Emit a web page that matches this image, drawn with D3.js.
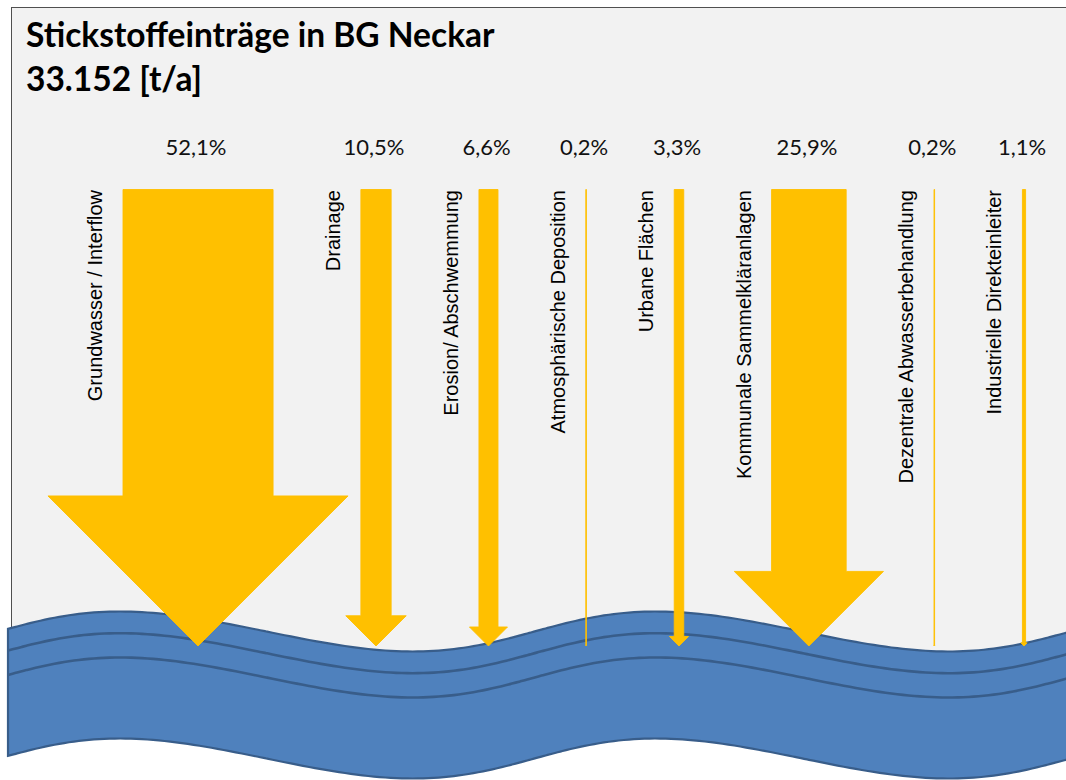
<!DOCTYPE html>
<html>
<head>
<meta charset="utf-8">
<script src="https://cdn.jsdelivr.net/npm/d3@7"></script>
<style>
  body { margin: 0; background: #fff; }
  svg { display: block; }
</style>
</head>
<body>
<svg id="chart" width="1066" height="780"></svg>
<script>
const TITLE = 'Stickstoffeinträge in BG Neckar';
const TOTAL = 33152;
const UNIT = '[t/a]';
const SOURCES = [
    'Grundwasser / Interflow',
    'Drainage',
    'Erosion/ Abschwemmung',
    'Atmosphärische Deposition',
    'Urbane Flächen',
    'Kommunale Sammelkläranlagen',
    'Dezentrale Abwasserbehandlung',
    'Industrielle Direkteinleiter'
];
const SHARES = [52.1, 10.5, 6.6, 0.2, 3.3, 25.9, 0.2, 1.1];

const W = 1066;
const H = 780;
const ORANGE = '#ffc000';
const BLUE = '#4f81bd';
const DARK_BLUE = '#385d8a';

const de = d3.formatLocale({ decimal: ',', thousands: '.', grouping: [3], currency: ['', ' €'] });
const fmtPct = de.format('.1f');
const fmtTotal = de.format(',d');

const svg = d3.select('#chart');

// share (percent) -> pixels; arrows sit side by side with a fixed gap between them
const GAP = 30.5;
const x = d3.scaleLinear().domain([0, 100]).range([123, 411]);
const widthOf = s => x(s) - x(0);
let acc = 0;
const arrows = SOURCES.map((name, i) => {
    const d = { name, share: SHARES[i], left: x(acc + i * GAP), w: widthOf(SHARES[i]) };
    acc += SHARES[i];
    return d;
});

// vertical extent of the arrows
const y = d3.scaleLinear().domain([0, 1]).range([189.5, 646]);

// background panel
svg.append('rect')
    .attr('x', 11.5)
    .attr('y', 7.5)
    .attr('width', W)
    .attr('height', 700)
    .attr('fill', '#f2f2f2')
    .attr('stroke', '#505050')
    .attr('stroke-width', 1);

// the river: a skewed wave
const waveX = t => 132.5 + 536 * t / (2 * Math.PI) - 12.5 * Math.cos(t);
const waveY = (t, off) => 631.5 - 20 * Math.cos(t) + off;
function tAt(px) {
    let lo = -4, hi = 16;
    for (let k = 0; k < 60; k++) {
        const mid = (lo + hi) / 2;
        if (waveX(mid) < px) lo = mid; else hi = mid;
    }
    return lo;
}
const t0 = tAt(8);
const t1 = tAt(W + 12);
function wavePts(off) {
    const pts = [];
    const n = 200;
    for (let k = 0; k <= n; k++) {
        const t = t0 + (t1 - t0) * k / n;
        pts.push([waveX(t), waveY(t, off)]);
    }
    return pts;
}
const line = d3.line().curve(d3.curveCatmullRom);
const waveTop = wavePts(0);
const waveBottom = wavePts(127).reverse();

svg.append('path')
    .attr('d', line(waveTop) + 'L' + line(waveBottom).slice(1) + 'Z')
    .attr('fill', BLUE)
    .attr('stroke', DARK_BLUE)
    .attr('stroke-width', 2.2);

[21.7, 46].forEach(off => {
    svg.append('path')
        .attr('d', line(wavePts(off)))
        .attr('fill', 'none')
        .attr('stroke', DARK_BLUE)
        .attr('stroke-width', 2.6);
});

// arrows
const arrowPath = d => {
    const y0 = y(0), y1 = y(1), L = d.left, w = d.w;
    return d3.line()([
        [L, y0], [L + w, y0], [L + w, y1 - w], [L + 1.5 * w, y1 - w],
        [L + w / 2, y1], [L - 0.5 * w, y1 - w], [L, y1 - w]
    ]) + 'Z';
};

const g = svg.selectAll('.arrow')
    .data(arrows)
    .enter()
    .append('g')
    .attr('class', 'arrow');

g.append('path')
    .attr('d', arrowPath)
    .attr('fill', ORANGE)
    .attr('stroke', ORANGE)
    .attr('stroke-width', 0.9)
    .attr('stroke-linejoin', 'miter');

g.append('text')
    .attr('transform', d => `translate(${d.left - 21},${y(0) + 0.5}) rotate(-90)`)
    .attr('text-anchor', 'end')
    .style('font-family', '"Liberation Sans", Arial, sans-serif')
    .style('font-size', '20px')
    .attr('fill', '#000')
    .text(d => d.name);

g.append('text')
    .attr('x', d => d.left + d.w / 2 - 2)
    .attr('y', 155)
    .attr('text-anchor', 'middle')
    .style('font-family', 'Lato, "Open Sans", sans-serif')
    .style('font-size', '22px')
    .attr('fill', '#111')
    .text(d => fmtPct(d.share) + '%');

// title
svg.append('text')
    .attr('x', 26)
    .attr('y', 47)
    .style('font-family', 'Lato, "Open Sans", sans-serif')
    .style('font-weight', 700)
    .style('font-size', '33.5px')
    .attr('fill', '#000')
    .text(TITLE);

svg.append('text')
    .attr('x', 26)
    .attr('y', 91)
    .style('font-family', 'Lato, "Open Sans", sans-serif')
    .style('font-weight', 700)
    .style('font-size', '33.5px')
    .attr('fill', '#000')
    .text(fmtTotal(TOTAL) + ' ' + UNIT);
</script>
</body>
</html>
